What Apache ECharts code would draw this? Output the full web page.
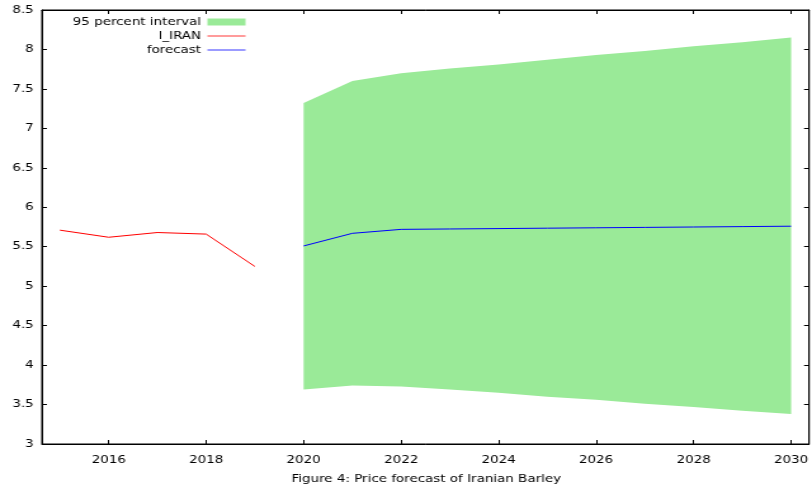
<!DOCTYPE html>
<html>
<head>
<meta charset="utf-8">
<script src="https://cdn.jsdelivr.net/npm/echarts@6/dist/echarts.min.js"></script>
<style>
  html, body { margin: 0; padding: 0; background: #fff; overflow: hidden; }
  /* the figure is laid out on a 640px-wide canvas and widened to fill 812px */
  #chart { width: 640px; height: 489px; transform: scaleX(1.26875); transform-origin: 0 0; }
</style>
</head>
<body>
<div id="chart"></div>
<script>
// Observed series
const histYears = [2015, 2016, 2017, 2018, 2019];
const histValues = [5.71, 5.62, 5.68, 5.66, 5.25];

// Forecast and its 95 percent interval
const fcYears = [2020, 2021, 2022, 2023, 2024, 2025, 2026, 2027, 2028, 2029, 2030];
const fcValues = [5.51, 5.67, 5.72, 5.725, 5.73, 5.735, 5.74, 5.745, 5.75, 5.755, 5.76];
const fcUpper = [7.32, 7.60, 7.70, 7.76, 7.81, 7.87, 7.93, 7.98, 8.04, 8.09, 8.15];
const fcLower = [3.69, 3.74, 3.73, 3.69, 3.65, 3.60, 3.56, 3.51, 3.47, 3.42, 3.38];

const xTickValues = [2016, 2018, 2020, 2022, 2024, 2026, 2028, 2030];
const xRange = [2014.63, 2030.37];
const yRange = [3, 8.5];

const FONT = 'DejaVu Sans';
const FS = 10.6;
const bandColor = '#9aea98';
const lineIcon = 'path://M0,0H38V1H0Z';

const chart = echarts.init(document.getElementById('chart'), null, { renderer: 'canvas' });

const pair = (xs, ys) => xs.map((x, i) => [x, ys[i]]);

// Interval band: one polygon through the upper bounds and back along the lower bounds
function renderBand(params, api) {
  if (params.dataIndex !== 0) return null;
  const n = fcYears.length;
  const pts = [];
  for (let j = 0; j < n; j++) pts.push(api.coord([api.value(0, j), api.value(2, j)]));
  for (let j = n - 1; j >= 0; j--) pts.push(api.coord([api.value(0, j), api.value(1, j)]));
  return {
    type: 'polygon',
    shape: { points: pts },
    style: { fill: bandColor, stroke: null }
  };
}

const option = {
  animation: false,
  backgroundColor: '#fff',
  title: {
    text: 'Figure 4: Price forecast of Iranian Barley',
    left: 336,
    textAlign: 'center',
    top: 474,
    padding: 0,
    textStyle: { fontFamily: FONT, fontSize: FS, fontWeight: 'normal', color: '#000' }
  },
  legend: {
    orient: 'vertical',
    left: 56.5,
    top: 15.5,
    padding: 0,
    align: 'right',
    itemWidth: 30,
    itemHeight: 7,
    itemGap: 1,
    textStyle: { fontFamily: FONT, fontSize: FS, lineHeight: 13, color: '#000', width: 102, align: 'right' },
    data: [
      { name: '95 percent interval', icon: 'rect', itemStyle: { color: bandColor } },
      { name: 'l_IRAN', icon: lineIcon, itemStyle: { color: '#ff0000' } },
      { name: 'forecast', icon: lineIcon, itemStyle: { color: '#0000ff' } }
    ]
  },
  grid: {
    left: 33, right: 0.6, top: 10, bottom: 45,
    show: true, borderColor: '#000', borderWidth: 1, backgroundColor: 'transparent'
  },
  xAxis: [
    {
      type: 'value', min: xRange[0], max: xRange[1],
      axisLine: { show: true, onZero: false, lineStyle: { color: '#000' } },
      axisTick: { show: true, inside: true, length: 4, lineStyle: { color: '#000' }, customValues: xTickValues },
      axisLabel: { customValues: xTickValues, color: '#000', fontFamily: FONT, fontSize: FS, margin: 10.5, formatter: v => String(v) },
      splitLine: { show: false }
    },
    {
      type: 'value', position: 'top', min: xRange[0], max: xRange[1],
      axisLine: { show: true, onZero: false, lineStyle: { color: '#000' } },
      axisTick: { show: true, inside: true, length: 4, lineStyle: { color: '#000' }, customValues: xTickValues },
      axisLabel: { show: false },
      splitLine: { show: false }
    }
  ],
  yAxis: [
    {
      type: 'value', min: yRange[0], max: yRange[1], interval: 0.5,
      axisLine: { show: true, onZero: false, lineStyle: { color: '#000' } },
      axisTick: { show: true, inside: true, length: 4, lineStyle: { color: '#000' } },
      axisLabel: { color: '#000', fontFamily: FONT, fontSize: FS, margin: 6.5, formatter: v => String(v) },
      splitLine: { show: false }
    },
    {
      type: 'value', position: 'right', min: yRange[0], max: yRange[1], interval: 0.5,
      axisLine: { show: true, onZero: false, lineStyle: { color: '#000' } },
      axisTick: { show: true, inside: true, length: 4, lineStyle: { color: '#000' } },
      axisLabel: { show: false },
      splitLine: { show: false }
    }
  ],
  series: [
    {
      name: '95 percent interval',
      type: 'custom',
      renderItem: renderBand,
      data: fcYears.map((x, i) => [x, fcLower[i], fcUpper[i]]),
      encode: { x: 0, y: [1, 2] },
      itemStyle: { color: bandColor },
      silent: true,
      z: 1
    },
    {
      name: 'l_IRAN',
      type: 'line',
      data: pair(histYears, histValues),
      symbol: 'none',
      itemStyle: { color: '#ff0000' },
      lineStyle: { color: '#ff0000', width: 1 },
      z: 3
    },
    {
      name: 'forecast',
      type: 'line',
      data: pair(fcYears, fcValues),
      symbol: 'none',
      itemStyle: { color: '#0000ff' },
      lineStyle: { color: '#0000ff', width: 1 },
      z: 3
    }
  ]
};

chart.setOption(option);
</script>
</body>
</html>
